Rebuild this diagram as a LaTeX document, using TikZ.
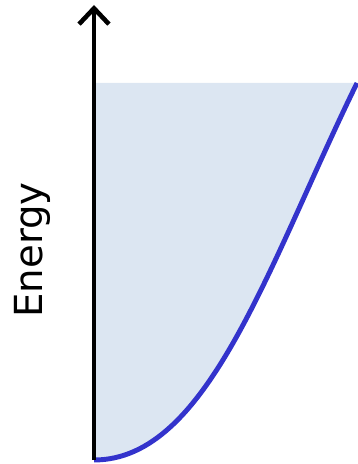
\documentclass[tikz,border=0pt]{standalone}
\usepackage{fontspec}
\setmainfont{DejaVu Sans}
\usetikzlibrary{arrows.meta}
\definecolor{bandfill}{RGB}{220,230,242}
\definecolor{bandline}{RGB}{51,51,204}
\begin{document}
\begin{tikzpicture}[x=0.02cm, y=0.02cm, >={Straight Barb[length=9pt,width=17pt]}]
    \useasboundingbox (0,0) rectangle (358,464);
    \coordinate (origin) at (94,4);
    \coordinate (axistop) at (94,459);
    \coordinate (bandend) at (357,381);
    \coordinate (bandcorner) at (94,381);

    % Draw filled band under the dispersion curve
    \fill[bandfill] (origin) .. controls (208,4) and (268,199) .. (bandend) -- (bandcorner) -- cycle;
    \draw[bandline, line width=2.8pt] (origin) .. controls (208,4) and (268,199) .. (bandend);

    % Draw energy axis
    \draw[->, line width=2.6pt] (origin) -- (axistop);
    \node[rotate=90, anchor=base, inner sep=0pt, font=\fontsize{22}{26}\selectfont] (elabel) at (43,214) {Energy};
\end{tikzpicture}
\end{document}
